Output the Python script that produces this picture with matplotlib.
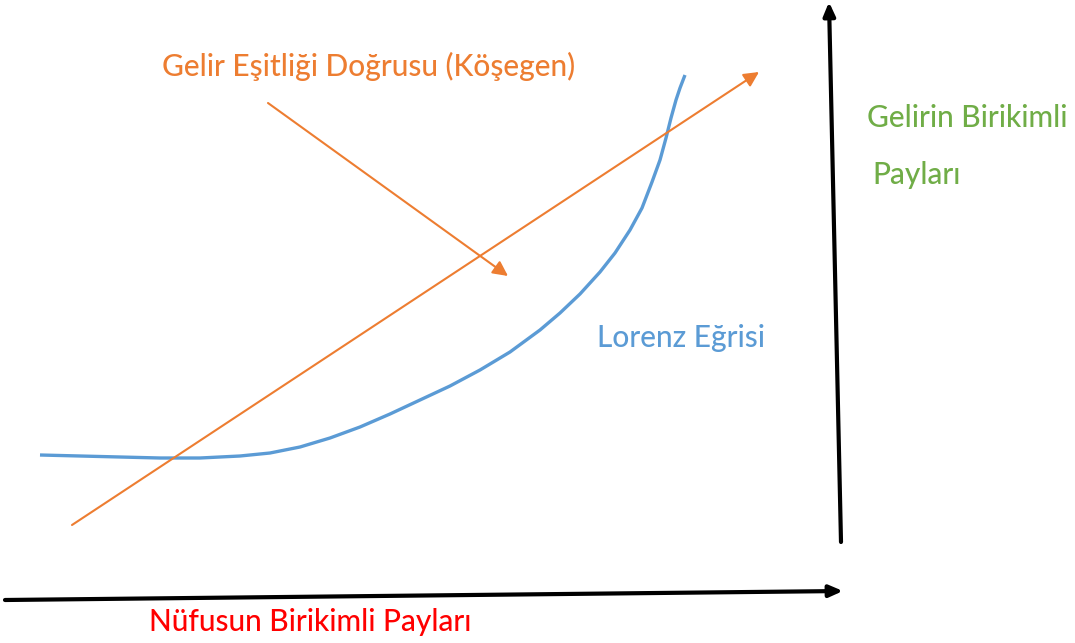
import matplotlib
matplotlib.use("Agg")
import matplotlib.pyplot as plt

# Lorenz curve points (image pixel coords)
lorenz_x = [40, 80, 120, 160, 200, 240, 270, 300, 330, 360, 390, 420, 450, 480, 510,
            540, 560, 580, 600, 615, 630, 642, 652, 660, 666, 671, 676, 680, 685]
lorenz_y = [455, 456, 457, 458, 458, 456, 453, 447, 438, 427, 414, 400, 386, 370, 352,
            330, 313, 294, 272, 253, 230, 208, 182, 160, 138, 118, 100, 88, 75]

# Equality diagonal
diag_x = [72, 759]
diag_y = [525, 72]

# Callout arrow
callout_x = [268, 508]
callout_y = [103, 276]

# Axes arrows
xaxis_x = [5, 843]
xaxis_y = [600, 591]
yaxis_x = [841, 829]
yaxis_y = [542, 2]

labels = {
    "diag": "Gelir Eşitliği Doğrusu (Köşegen)",
    "ylab1": "Gelirin Birikimli",
    "ylab2": "Payları",
    "lorenz": "Lorenz Eğrisi",
    "xlab": "Nüfusun Birikimli Payları",
}

ORANGE = "#ED7D31"
BLUE = "#5B9BD5"
GREEN = "#70AD47"
RED = "#FF0000"

plt.rcParams['font.family'] = ['Lato', 'DejaVu Sans']

fig = plt.figure(figsize=(10.75, 6.43), dpi=100)
ax = fig.add_axes([0, 0, 1, 1])
ax.set_xlim(0, 1075)
ax.set_ylim(643, 0)
ax.axis("off")

# Lorenz curve
ax.plot(lorenz_x, lorenz_y, color=BLUE, lw=2.4, solid_capstyle="butt",
        solid_joinstyle="round")

# Diagonal with arrow
ax.annotate("", xy=(diag_x[1], diag_y[1]), xytext=(diag_x[0], diag_y[0]),
            arrowprops=dict(arrowstyle="-|>,head_length=0.9,head_width=0.45",
                            color=ORANGE, lw=1.5, shrinkA=0, shrinkB=0))
# Callout arrow
ax.annotate("", xy=(callout_x[1], callout_y[1]), xytext=(callout_x[0], callout_y[0]),
            arrowprops=dict(arrowstyle="-|>,head_length=0.9,head_width=0.45",
                            color=ORANGE, lw=1.5, shrinkA=0, shrinkB=0))

# Axes arrows
ax.annotate("", xy=(xaxis_x[1], xaxis_y[1]), xytext=(xaxis_x[0], xaxis_y[0]),
            arrowprops=dict(arrowstyle="-|>,head_length=0.8,head_width=0.35",
                            color="black", lw=3, shrinkA=0, shrinkB=0))
ax.annotate("", xy=(yaxis_x[1], yaxis_y[1]), xytext=(yaxis_x[0], yaxis_y[0]),
            arrowprops=dict(arrowstyle="-|>,head_length=0.8,head_width=0.35",
                            color="black", lw=3, shrinkA=0, shrinkB=0))

fs = 21.5
kw = dict(fontsize=fs, va="center", ha="left", fontweight="medium")
ax.text(162, 66, labels["diag"], color=ORANGE, **kw)
ax.text(867, 118, labels["ylab1"], color=GREEN, **kw)
ax.text(872, 175, labels["ylab2"], color=GREEN, **kw)
ax.text(597, 338, labels["lorenz"], color=BLUE, **kw)
ax.text(149, 622, labels["xlab"], color=RED, **kw)

fig.savefig("out.png", dpi=100)
